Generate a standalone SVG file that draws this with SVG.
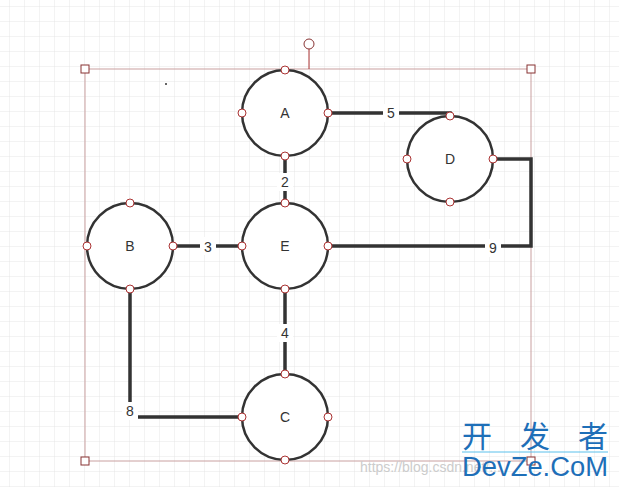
<svg xmlns="http://www.w3.org/2000/svg" width="619" height="487" viewBox="0 0 619 487">
<style>
.n{fill:#fff;stroke:#333;stroke-width:2.5}
.p{fill:#fff;stroke:#a33;stroke-width:1}
.t{font-family:"Liberation Sans",Arial,sans-serif;font-size:14px;fill:#333;text-anchor:middle;dominant-baseline:central}
.e{fill:none;stroke:#333;stroke-width:3.5}
.lb{font-family:"Liberation Sans",Arial,sans-serif;font-size:14px;fill:#333;text-anchor:middle;dominant-baseline:central}
.h{fill:#fff;stroke:#833;stroke-width:1}
</style>
<defs>
<pattern id="g" width="15" height="15" patternUnits="userSpaceOnUse" x="-5" y="7">
<path d="M15 0V15H0" fill="none" stroke="#e6e6e6" stroke-width="1"/>
</pattern>
</defs>
<rect width="619" height="487" fill="#fff"/>
<rect width="619" height="487" fill="url(#g)"/>
<g id="selection">
<rect x="85" y="69" width="446" height="392" fill="none" stroke="#c9a0a0" stroke-width="1"/>
<line x1="309" y1="49" x2="309" y2="69" stroke="#a33"/>
<circle cx="309" cy="44" r="5" class="h"/>
<rect x="81" y="65" width="8" height="8" class="h"/>
<rect x="527" y="65" width="8" height="8" class="h"/>
<rect x="81" y="457" width="8" height="8" class="h"/>
<rect x="527" y="457" width="8" height="8" class="h"/>
<circle cx="166" cy="84" r="1" fill="#333"/>
</g>
<g id="edges">
<polyline class="e" points="328,113 450,113 450,116"/>
<rect x="383" y="104" width="16" height="18" fill="#fff"/><text class="lb" x="391" y="113">5</text>
<line class="e" x1="285" y1="156" x2="285" y2="203"/>
<rect x="277" y="173" width="16" height="18" fill="#fff"/><text class="lb" x="285" y="182">2</text>
<line class="e" x1="173" y1="246" x2="242" y2="246"/>
<rect x="200" y="237" width="16" height="18" fill="#fff"/><text class="lb" x="208" y="247">3</text>
<polyline class="e" points="328,246 531,246 531,159 493,159"/>
<rect x="485" y="239" width="16" height="18" fill="#fff"/><text class="lb" x="493" y="248">9</text>
<line class="e" x1="285" y1="289" x2="285" y2="374"/>
<rect x="277" y="324" width="16" height="18" fill="#fff"/><text class="lb" x="285" y="333">4</text>
<polyline class="e" points="130,289 130,417 242,417"/>
<rect x="122" y="402" width="16" height="18" fill="#fff"/><text class="lb" x="130" y="411">8</text>
</g>
<g id="A"><circle class="n" cx="285" cy="113" r="43"/><text class="t" x="285" y="113">A</text>
<circle class="p" cx="285" cy="70" r="4"/><circle class="p" cx="242" cy="113" r="4"/><circle class="p" cx="328" cy="113" r="4"/><circle class="p" cx="285" cy="156" r="4"/></g>
<g id="D"><circle class="n" cx="450" cy="159" r="43"/><text class="t" x="450" y="159">D</text>
<circle class="p" cx="450" cy="116" r="4"/><circle class="p" cx="407" cy="159" r="4"/><circle class="p" cx="493" cy="159" r="4"/><circle class="p" cx="450" cy="202" r="4"/></g>
<g id="E"><circle class="n" cx="285" cy="246" r="43"/><text class="t" x="285" y="246">E</text>
<circle class="p" cx="285" cy="203" r="4"/><circle class="p" cx="242" cy="246" r="4"/><circle class="p" cx="328" cy="246" r="4"/><circle class="p" cx="285" cy="289" r="4"/></g>
<g id="B"><circle class="n" cx="130" cy="246" r="43"/><text class="t" x="130" y="246">B</text>
<circle class="p" cx="130" cy="203" r="4"/><circle class="p" cx="87" cy="246" r="4"/><circle class="p" cx="173" cy="246" r="4"/><circle class="p" cx="130" cy="289" r="4"/></g>
<g id="C"><circle class="n" cx="285" cy="417" r="43"/><text class="t" x="285" y="417">C</text>
<circle class="p" cx="285" cy="374" r="4"/><circle class="p" cx="242" cy="417" r="4"/><circle class="p" cx="328" cy="417" r="4"/><circle class="p" cx="285" cy="460" r="4"/></g>
<g id="watermark">
<text x="360" y="472" font-family="'Liberation Sans',sans-serif" font-size="14" fill="#ccc">https://blog.csdn.net/...</text>
<text x="462" y="447" font-family="'Noto Sans CJK SC',sans-serif" font-size="30" fill="#1e6fb8" textLength="146">开 发 者</text>
<line x1="462" y1="452" x2="608" y2="452" stroke="#5bc0eb" stroke-width="1"/>
<text x="462" y="476" font-family="'Liberation Sans',sans-serif" font-size="27" fill="#1e6fb8" textLength="146" lengthAdjust="spacingAndGlyphs">DevZe.CoM</text>
</g>
</svg>
